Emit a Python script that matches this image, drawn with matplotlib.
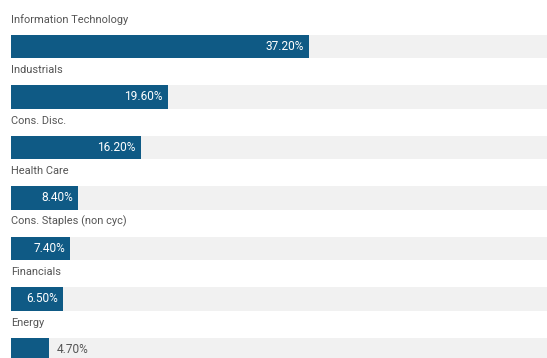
import matplotlib.pyplot as plt

sectors = ['Information Technology', 'Industrials', 'Cons. Disc.', 'Health Care',
           'Cons. Staples (non cyc)', 'Financials', 'Energy']
weights = [37.2, 19.6, 16.2, 8.4, 7.4, 6.5, 4.7]
value_labels = ['37.20%', '19.60%', '16.20%', '8.40%', '7.40%', '6.50%', '4.70%']

plt.rcParams['font.family'] = ['Roboto', 'DejaVu Sans']

bar_color = '#0f5a85'
track_color = '#f1f1f1'
text_color = '#555555'

fig = plt.figure(figsize=(5.47, 3.58), dpi=100)
ax = fig.add_axes([0, 0, 1, 1])

pos = list(range(len(sectors)))
ax.barh(pos, [100] * len(pos), height=0.46, color=track_color, zorder=1)
ax.barh(pos, weights, height=0.46, color=bar_color, zorder=2)

for i, (name, w, lab) in enumerate(zip(sectors, weights, value_labels)):
    ax.text(0, i - 0.53, name, ha='left', va='center', fontsize=7.9, color=text_color)
    if w > 6:
        ax.text(w - 0.6, i, lab, ha='right', va='center', fontsize=8.6, color='white', zorder=3)
    else:
        ax.text(w + 1.0, i, lab, ha='left', va='center', fontsize=8.6, color=text_color, zorder=3)

ax.set_xlim(-1.38, 67.0)
ax.set_ylim(6.17, -0.92)
ax.axis('off')

fig.savefig('out.png', dpi=100, facecolor='white')
